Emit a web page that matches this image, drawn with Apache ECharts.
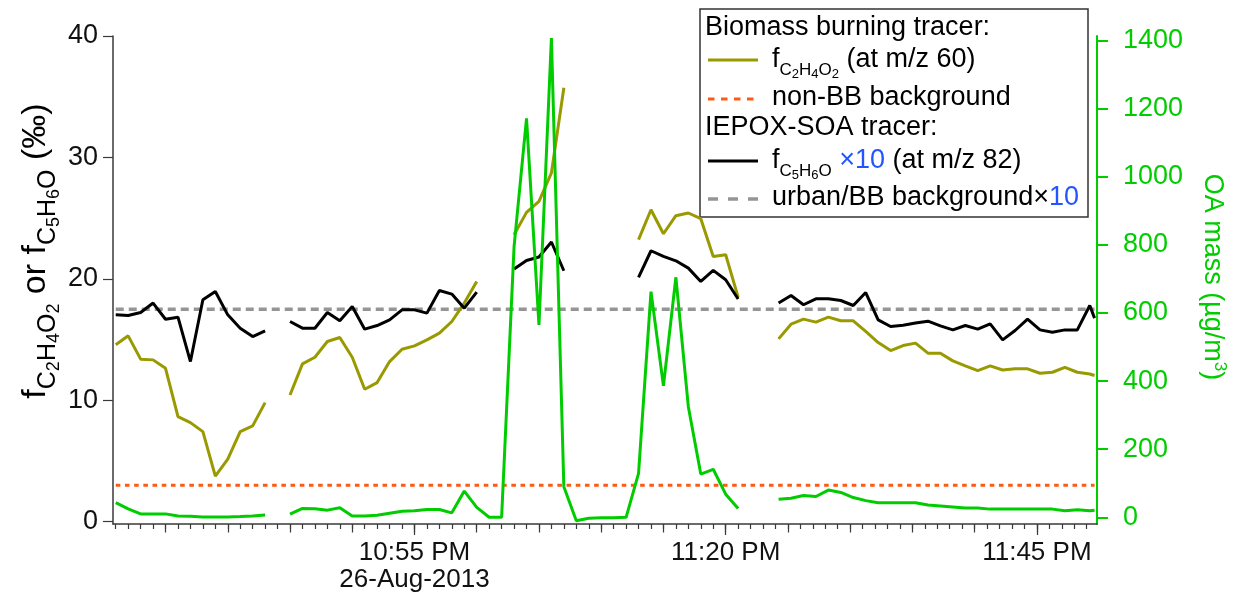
<!DOCTYPE html>
<html>
<head>
<meta charset="utf-8">
<script src="https://cdn.jsdelivr.net/npm/echarts@6/dist/echarts.min.js"></script>
<style>
  html, body { margin: 0; padding: 0; background: #ffffff; }
  #chart { width: 1244px; height: 604px; }
</style>
</head>
<body>
<div id="chart"></div>
<script>
// Sample times (local clock, 26-Aug-2013); null values break the lines at data gaps
const times = [
  '22:31','22:32','22:33','22:34','22:35','22:36','22:37','22:38','22:39','22:40','22:41','22:42','22:43',
  '22:44',
  '22:45','22:46','22:47','22:48','22:49','22:50','22:51','22:52','22:53','22:54','22:55','22:56','22:57','22:58','22:59','23:00',
  '23:01','23:02',
  '23:03','23:04','23:05','23:06','23:07',
  '23:08','23:09','23:10','23:11','23:12',
  '23:13','23:14','23:15','23:16','23:17','23:18','23:19','23:20','23:21',
  '23:22','23:23',
  '23:24:15','23:25:15','23:26:15','23:27:15','23:28:15','23:29:15','23:30:15','23:31:15','23:32:15','23:33:15',
  '23:34:15','23:35:15','23:36:15','23:37:15','23:38:15','23:39:15','23:40:15','23:41:15','23:42:15','23:43:15',
  '23:44:15','23:45:15','23:46:15','23:47:15','23:48:15','23:49:15','23:49:38'
];

// f(C2H4O2), biomass burning tracer at m/z 60 (per mil)
const fC2H4O2 = [
  14.56, 15.30, 13.38, 13.32, 12.63, 8.64, 8.15, 7.41, 3.75, 5.15, 7.41, 7.88, 9.80,
  null,
  10.43, 12.99, 13.54, 14.83, 15.16, 13.54, 10.90, 11.45, 13.18, 14.20, 14.47, 14.97, 15.52, 16.48, 18.00, 19.78,
  null, null,
  23.63, 25.47, 26.38, 28.72, 35.73,
  null, null, null, null, null,
  23.22, 25.69, 23.71, 25.20, 25.42, 24.95, 21.84, 21.98, 18.49,
  null, null,
  15.05, 16.26, 16.68, 16.43, 16.84, 16.54, 16.54, 15.66, 14.75, 14.09,
  14.50, 14.70, 13.87, 13.87, 13.24, 12.82, 12.44, 12.82, 12.49, 12.58,
  12.58, 12.22, 12.30, 12.71, 12.30, 12.16, 12.03
];

// f(C5H6O) x10, IEPOX-SOA tracer at m/z 82 (per mil)
const fC5H6Ox10 = [
  17.03, 16.97, 17.22, 18.00, 16.67, 16.84, 13.18, 18.27, 18.95, 17.03, 15.93, 15.24, 15.71,
  null,
  16.48, 15.93, 15.93, 17.22, 16.54, 17.72, 15.85, 16.15, 16.62, 17.44, 17.44, 17.17, 19.04, 18.74, 17.58, 18.90,
  null, null,
  20.80, 21.51, 21.79, 23.03, 20.66,
  null, null, null, null, null,
  20.11, 22.31, 21.84, 21.48, 20.88, 19.78, 20.69, 19.92, 18.33,
  null, null,
  18.00, 18.62, 17.86, 18.35, 18.35, 18.21, 17.80, 18.87, 16.62, 16.07,
  16.18, 16.35, 16.51, 16.12, 15.79, 16.15, 15.85, 16.29, 14.97, 15.74,
  16.68, 15.79, 15.60, 15.79, 15.79, 17.80, 16.76
];

// OA mass (ug/m3)
const oaMass = [
  43, 25, 10, 10, 10, 4, 3, 1, 1, 1, 2, 4, 7,
  null,
  9, 26, 25, 21, 28, 4, 4, 6, 12, 18, 19, 23, 23, 13, 77, 29,
  0, 0,
  795, 1172, 565, 1408, 90,
  -10, -3, -1, -1, 0,
  129, 663, 386, 705, 325, 127, 141, 68, 26,
  null, null,
  53, 56, 64, 61, 80, 73, 58, 49, 43, 43,
  43, 43, 36, 33, 30, 27, 27, 24, 24, 24,
  24, 24, 24, 19, 22, 19, 21
];

const nonBBBackground = 3.0;
const urbanBBBackgroundX10 = 17.5;

const leftTicks = [0, 10, 20, 30, 40];
const rightTicks = [0, 200, 400, 600, 800, 1000, 1200, 1400];
const xLabelTimes = ['22:55', '23:20', '23:45'];
const xLabelTexts = ['10:55 PM\n26-Aug-2013', '11:20 PM', '11:45 PM'];

// minutes after 22:00
function toMin(s) {
  const p = s.split(':').map(Number);
  return (p[0] - 22) * 60 + p[1] + (p[2] || 0) / 60;
}
const tMin = times.map(toMin);
const pairs = arr => arr.map((v, i) => [tMin[i], v]);

const xMin = 30.78, xMax = 109.83;
const minuteTicks = [], fiveMinTicks = [];
for (let m = 31; m <= 109; m++) { minuteTicks.push(m); if (m % 5 === 0) fiveMinTicks.push(m); }
const labelVals = xLabelTimes.map(toMin);

const FONT = '"Liberation Sans", Arial, Helvetica, sans-serif';
const OLIVE = '#999900', ORANGE = '#ff5a14', GRAY = '#959595', GREEN = '#00cc00', BLUE = '#2255ff', AXIS = '#3a3a3a';

// bottom axes share one range; each extra one only adds a tick level
const tickAxis = (values, len) => ({
  type: 'value', gridIndex: 0, position: 'bottom', min: xMin, max: xMax,
  splitLine: { show: false },
  axisLabel: { show: false, customValues: values, interval: 0 },
  axisLine: { show: false, onZero: false },
  axisTick: { show: true, interval: 0, customValues: values, length: len, lineStyle: { color: AXIS, width: 1.2 } }
});

const legendRich = {
  t: { fontSize: 27, fontFamily: FONT, fill: '#000' },
  s: { fontSize: 17, fontFamily: FONT, fill: '#000', padding: [20, 0, 0, 0] },
  d: { fontSize: 13, fontFamily: FONT, fill: '#000', padding: [29, 0, 0, 0] },
  b: { fontSize: 27, fontFamily: FONT, fill: BLUE }
};
const titleRich = {
  t: { fontSize: 34, fontFamily: FONT, fill: '#000' },
  s: { fontSize: 25, fontFamily: FONT, fill: '#000', padding: [24, 0, 0, 0] },
  d: { fontSize: 18, fontFamily: FONT, fill: '#000', padding: [36, 0, 0, 0] }
};

const chart = echarts.init(document.getElementById('chart'), null, { renderer: 'canvas' });
chart.setOption({
  animation: false,
  backgroundColor: '#ffffff',
  textStyle: { fontFamily: FONT },
  grid: { left: 113, right: 147, top: 36, bottom: 80, containLabel: false, outerBoundsMode: 'none' },
  xAxis: [
    {
      type: 'value', gridIndex: 0, position: 'bottom', min: xMin, max: xMax,
      splitLine: { show: false },
      axisLine: { show: true, onZero: false, lineStyle: { color: AXIS, width: 1.5 } },
      axisTick: { show: false },
      axisLabel: {
        show: true, customValues: labelVals, margin: 15, fontSize: 26, lineHeight: 27,
        color: '#111', fontFamily: FONT,
        formatter: v => { const i = labelVals.findIndex(x => Math.abs(x - v) < 1e-6); return i >= 0 ? xLabelTexts[i] : ''; }
      }
    },
    tickAxis(minuteTicks, 5),
    tickAxis(fiveMinTicks, 8.5),
    tickAxis(labelVals, 11)
  ],
  yAxis: [
    {
      type: 'value', position: 'left', min: -0.2, max: 40,
      splitLine: { show: false },
      axisLine: { show: true, onZero: false, lineStyle: { color: AXIS, width: 1.5 } },
      axisTick: { show: true, customValues: leftTicks, length: 10, lineStyle: { color: AXIS, width: 1.2 } },
      axisLabel: { customValues: leftTicks, margin: 15, fontSize: 27, color: '#111', fontFamily: FONT, formatter: v => String(v) }
    },
    {
      type: 'value', position: 'right', min: -19.7, max: 1413.8,
      splitLine: { show: false },
      axisLine: { show: true, onZero: false, lineStyle: { color: GREEN, width: 2 } },
      axisTick: { show: true, customValues: rightTicks, length: 11, lineStyle: { color: GREEN, width: 2 } },
      axisLabel: { customValues: rightTicks, margin: 26, fontSize: 27, color: GREEN, fontFamily: FONT, formatter: v => String(v) }
    }
  ],
  series: [
    {
      name: 'urban/BB background×10', type: 'line', xAxisIndex: 0, yAxisIndex: 0, showSymbol: false, silent: true,
      data: [[tMin[0], urbanBBBackgroundX10], [tMin[tMin.length - 1], urbanBBBackgroundX10]],
      lineStyle: { color: GRAY, width: 3.5, type: [8, 5] }
    },
    {
      name: 'non-BB background', type: 'line', xAxisIndex: 0, yAxisIndex: 0, showSymbol: false, silent: true,
      data: [[tMin[0], nonBBBackground], [tMin[tMin.length - 1], nonBBBackground]],
      lineStyle: { color: ORANGE, width: 3, type: [4.6, 4.6] }
    },
    {
      name: 'fC2H4O2', type: 'line', xAxisIndex: 0, yAxisIndex: 0, showSymbol: false, connectNulls: false,
      data: pairs(fC2H4O2), lineStyle: { color: OLIVE, width: 3 }
    },
    {
      name: 'fC5H6O x10', type: 'line', xAxisIndex: 0, yAxisIndex: 0, showSymbol: false, connectNulls: false,
      data: pairs(fC5H6Ox10), lineStyle: { color: '#000000', width: 3 }
    },
    {
      name: 'OA mass', type: 'line', xAxisIndex: 0, yAxisIndex: 1, showSymbol: false, connectNulls: false,
      data: pairs(oaMass), lineStyle: { color: GREEN, width: 3 }
    }
  ],
  graphic: [
    // left axis title
    {
      type: 'text', x: 36, y: 251, rotation: Math.PI / 2, z: 50,
      style: {
        text: '{t|f}{s|C}{d|2}{s|H}{d|4}{s|O}{d|2}{t| or f}{s|C}{d|5}{s|H}{d|6}{s|O}{t| (‰)}',
        rich: titleRich, align: 'center', verticalAlign: 'middle'
      }
    },
    // right axis title
    {
      type: 'text', x: 1212, y: 277, rotation: -Math.PI / 2, z: 50,
      style: {
        text: '{t|OA mass (µg/m}{p|3}{t|)}',
        rich: {
          t: { fontSize: 27, fontFamily: FONT, fill: GREEN },
          p: { fontSize: 17, fontFamily: FONT, fill: GREEN, padding: [0, 0, 16, 0] }
        },
        align: 'center', verticalAlign: 'middle'
      }
    },
    // legend box
    {
      type: 'group', z: 100,
      children: [
        { type: 'rect', shape: { x: 700, y: 9, width: 388, height: 208 }, style: { fill: '#ffffff', stroke: '#333333', lineWidth: 1.5 } },
        { type: 'text', x: 705, y: 28, style: { text: 'Biomass burning tracer:', font: '27px ' + FONT, fill: '#000', align: 'left', verticalAlign: 'middle' } },
        { type: 'line', shape: { x1: 708, y1: 60, x2: 758, y2: 60 }, style: { stroke: OLIVE, lineWidth: 3 } },
        { type: 'text', x: 772, y: 60, style: { text: '{t|f}{s|C}{d|2}{s|H}{d|4}{s|O}{d|2}{t| (at m/z 60)}', rich: legendRich, align: 'left', verticalAlign: 'middle' } },
        { type: 'line', shape: { x1: 708, y1: 99, x2: 758, y2: 99 }, style: { stroke: ORANGE, lineWidth: 3, lineDash: [6.5, 6.5] } },
        { type: 'text', x: 772, y: 98, style: { text: 'non-BB background', font: '27px ' + FONT, fill: '#000', align: 'left', verticalAlign: 'middle' } },
        { type: 'text', x: 705, y: 128, style: { text: 'IEPOX-SOA tracer:', font: '27px ' + FONT, fill: '#000', align: 'left', verticalAlign: 'middle' } },
        { type: 'line', shape: { x1: 708, y1: 161, x2: 758, y2: 161 }, style: { stroke: '#000', lineWidth: 3 } },
        { type: 'text', x: 772, y: 161, style: { text: '{t|f}{s|C}{d|5}{s|H}{d|6}{s|O}{b| ×10}{t| (at m/z 82)}', rich: legendRich, align: 'left', verticalAlign: 'middle' } },
        { type: 'line', shape: { x1: 708, y1: 199, x2: 758, y2: 199 }, style: { stroke: GRAY, lineWidth: 3.5, lineDash: [10, 10] } },
        { type: 'text', x: 772, y: 198, style: { text: '{t|urban/BB background×}{b|10}', rich: legendRich, align: 'left', verticalAlign: 'middle' } }
      ]
    }
  ]
});
</script>
</body>
</html>
